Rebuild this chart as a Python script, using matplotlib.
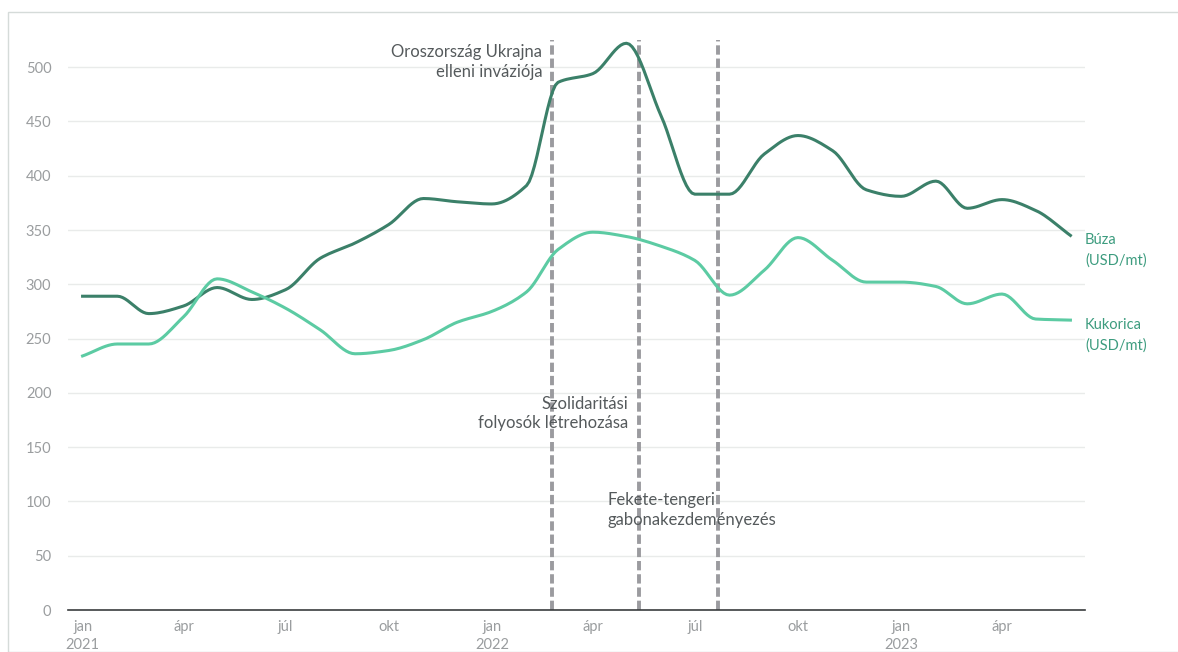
import numpy as np
import pandas as pd
import matplotlib
matplotlib.use('Agg')
import matplotlib.pyplot as plt
import matplotlib.dates as mdates
from matplotlib.patches import Rectangle

# --- data (monthly) ---
months = pd.date_range('2021-01-01', '2023-06-01', freq='MS')
wheat = [289, 289, 273, 280, 297, 286, 295, 324, 338, 355, 379, 376,
         374, 391, 486, 494, 522, 455, 383, 383, 420, 437, 423, 387,
         381, 395, 370, 378, 368, 345]
corn = [234, 245, 245, 270, 305, 293, 278, 258, 236, 239, 249, 265,
        275, 293, 332, 348, 344, 335, 322, 290, 313, 343, 322, 302,
        302, 298, 282, 291, 268, 267]
events = ['2022-02-24', '2022-05-12', '2022-07-22']
event_labels = ['Oroszország Ukrajna\nelleni inváziója',
                'Szolidaritási\nfolyosók létrehozása',
                'Fekete-tengeri\ngabonakezdeményezés']
yticks = [0, 50, 100, 150, 200, 250, 300, 350, 400, 450, 500]


def monotone(x, y, n=12):
    # monotone cubic (Fritsch-Carlson) for a smooth curve through the points
    x = np.asarray(x, float)
    y = np.asarray(y, float)
    h = np.diff(x)
    d = np.diff(y) / h
    m = np.zeros_like(y)
    m[0], m[-1] = d[0], d[-1]
    for i in range(1, len(y) - 1):
        if d[i - 1] * d[i] <= 0:
            m[i] = 0
        else:
            w1 = 2 * h[i] + h[i - 1]
            w2 = h[i] + 2 * h[i - 1]
            m[i] = (w1 + w2) / (w1 / d[i - 1] + w2 / d[i])
    xs, ys = [], []
    for i in range(len(x) - 1):
        t = np.linspace(0, 1, n, endpoint=False)
        h00 = 2 * t**3 - 3 * t**2 + 1
        h10 = t**3 - 2 * t**2 + t
        h01 = -2 * t**3 + 3 * t**2
        h11 = t**3 - t**2
        xs.append(x[i] + t * h[i])
        ys.append(h00 * y[i] + h10 * h[i] * m[i] + h01 * y[i + 1] + h11 * h[i] * m[i + 1])
    xs.append([x[-1]])
    ys.append([y[-1]])
    return np.concatenate(xs), np.concatenate(ys)


plt.rcParams['font.family'] = ['Lato', 'DejaVu Sans']

fig = plt.figure(figsize=(11.78, 6.52), dpi=100)
ax = fig.add_axes([68 / 1178, 1 - 610 / 652, (1085 - 68) / 1178, (610 - 40) / 652])

# light frame around the figure
fig.patches.append(Rectangle((8 / 1178, 0), 1.2, 1 - 12 / 652, transform=fig.transFigure,
                             fill=False, edgecolor='#d5dbd9', linewidth=1))

xnum = mdates.date2num(months)
wx, wy = monotone(xnum, wheat)
cx, cy = monotone(xnum, corn)
ax.plot(wx, wy, color='#3b8069', linewidth=2.2, zorder=3)
ax.plot(cx, cy, color='#5ccba3', linewidth=2.2, zorder=3)

for d in events:
    ax.axvline(mdates.date2num(pd.Timestamp(d)), color='#9b9b9f', linewidth=2.8,
               linestyle=(0, (2.4, 1.0)), zorder=2)

tcol = '#555a5c'
ev = [mdates.date2num(pd.Timestamp(d)) for d in events]
ax.text(ev[0] - 9, 505, event_labels[0], ha='right', va='center', fontsize=12,
        color=tcol, linespacing=1.3)
ax.text(ev[1] - 9, 181, event_labels[1], ha='right', va='center', fontsize=12,
        color=tcol, linespacing=1.3)
ax.text(ev[1] - 28, 92, event_labels[2], ha='left', va='center', fontsize=12,
        color=tcol, linespacing=1.3)

ax.text(1.0, 347, 'Búza\n(USD/mt)', transform=ax.get_yaxis_transform(), ha='left',
        va='top', fontsize=10.5, color='#3d9c7f', linespacing=1.55)
ax.text(1.0, 269, 'Kukorica\n(USD/mt)', transform=ax.get_yaxis_transform(), ha='left',
        va='top', fontsize=10.5, color='#3d9c7f', linespacing=1.55)

ax.set_xlim(mdates.date2num(pd.Timestamp('2020-12-19')), mdates.date2num(pd.Timestamp('2023-06-14')))
ax.set_ylim(0, 525)
ax.set_yticks(yticks)
ax.set_yticklabels([str(v) for v in yticks])

xt = pd.date_range('2021-01-01', '2023-04-01', freq='QS')
xl = []
for t in xt:
    name = {1: 'jan', 4: 'ápr', 7: 'júl', 10: 'okt'}[t.month]
    xl.append(name + '\n' + str(t.year) if t.month == 1 else name)
ax.set_xticks(mdates.date2num(xt))
ax.set_xticklabels(xl)

ax.tick_params(axis='both', length=0, labelsize=10.5, labelcolor='#9a9d9f')
ax.tick_params(axis='y', pad=12)
ax.tick_params(axis='x', pad=7)
for lab in ax.get_xticklabels():
    lab.set_linespacing(1.35)

ax.grid(axis='y', color='#e9ebea', linewidth=1)
ax.set_axisbelow(True)
for s in ['top', 'right', 'left']:
    ax.spines[s].set_visible(False)
ax.spines['bottom'].set_color('#3a3d3e')
ax.spines['bottom'].set_linewidth(1.2)
ax.spines['bottom'].set_zorder(4)

fig.savefig('out.png', dpi=100)
